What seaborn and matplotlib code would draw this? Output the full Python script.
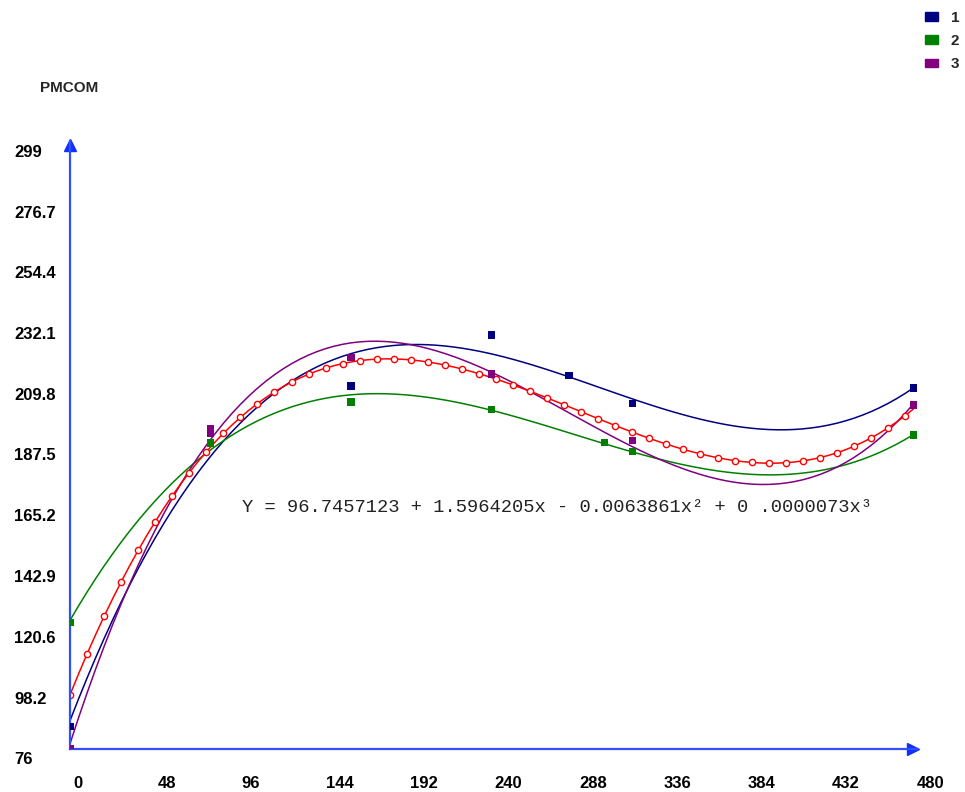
import matplotlib
matplotlib.use("Agg")
import matplotlib.pyplot as plt
import matplotlib.transforms as mtransforms
from matplotlib.patches import Patch
import pandas as pd
import seaborn as sns

# points, one list pair per series
x1 = [0, 80, 160, 240, 284, 320, 480]
y1 = [84.2, 192.0, 209.3, 228.1, 213.1, 203.0, 208.6]
x2 = [0, 80, 160, 240, 304, 320, 480]
y2 = [122.5, 188.4, 203.5, 200.8, 188.6, 185.3, 191.4]
x3 = [0, 80, 80, 160, 240, 320, 480]
y3 = [76.0, 193.7, 191.8, 219.8, 213.8, 189.3, 202.4]

series_names = ["1", "2", "3"]
series_colors = ["#000080", "#008000", "#800080"]

xticks = [0, 48, 96, 144, 192, 240, 288, 336, 384, 432, 480]
yticks = [76, 98.2, 120.6, 142.9, 165.2, 187.5, 209.8, 232.1, 254.4, 276.7, 299]
ytick_labels = ["76", "98.2", "120.6", "142.9", "165.2", "187.5", "209.8",
                "232.1", "254.4", "276.7", "299"]
y_title = "PMCOM"
equation = "Y = 96.7457123 + 1.5964205x - 0.0063861x² + 0 .0000073x³"

df = pd.concat([
    pd.DataFrame({"x": x1, "y": y1, "series": "1"}),
    pd.DataFrame({"x": x2, "y": y2, "series": "2"}),
    pd.DataFrame({"x": x3, "y": y3, "series": "3"}),
], ignore_index=True)

sns.set_style("white")
plt.rcParams["font.family"] = ["Liberation Sans", "DejaVu Sans"]

axis_color = "#3050ff"

fig = plt.figure(figsize=(9.65, 7.92), dpi=100)
# x: 0..482 -> px 70..917, y: 76..299.5 -> px 749..140.6
ax = fig.add_axes([70 / 965, 43 / 792, 847 / 965, 608.4 / 792])

# cubic fit per series
for name, color in zip(series_names, series_colors):
    sub = df[df.series == name]
    sns.regplot(data=sub, x="x", y="y", order=3, ci=None, scatter=False,
                color=color, line_kws=dict(lw=1.1), ax=ax)

# pooled cubic fit (red, circles along the curve)
sns.regplot(data=df, x="x", y="y", order=3, ci=None, scatter=False,
            color="red", ax=ax,
            line_kws=dict(lw=1.1, marker="o", ms=4.5, mfc="white", mew=1,
                          markevery=2))

sns.scatterplot(data=df, x="x", y="y", hue="series", hue_order=series_names,
                palette=series_colors, marker="s", s=28, linewidth=0,
                legend=False, ax=ax, zorder=5)

ax.set_xlim(0, 482)
ax.set_ylim(76, 299.5)
ax.set_xticks(xticks)
ax.set_yticks(yticks)
ax.set_xlabel("")
ax.set_ylabel("")
sns.despine(ax=ax)
for side in ["left", "bottom"]:
    ax.spines[side].set_color(axis_color)
    ax.spines[side].set_linewidth(1.6)
ax.tick_params(direction="inout", length=9, width=1, color=axis_color,
               labelleft=False, labelbottom=False)

# arrow heads at axis ends
ax.plot([0], [298], marker="^", color="#1030ff", ms=8, clip_on=False)
ax.plot([479.5], [76], marker=">", color="#1030ff", ms=8, clip_on=False)

# tick labels, placed like the original
ytrans = mtransforms.blended_transform_factory(ax.transAxes, ax.transData) + \
    mtransforms.ScaledTranslation(0, -10.5 / 100, fig.dpi_scale_trans)
for v, lab in zip(yticks, ytick_labels):
    ax.text(-56 / 847, v, lab, transform=ytrans, ha="left", va="center",
            fontsize=12, fontweight="bold", color="black")

xtrans = mtransforms.blended_transform_factory(ax.transData, ax.transAxes) + \
    mtransforms.ScaledTranslation(3 / 100, -34 / 100, fig.dpi_scale_trans)
for v in xticks:
    ax.text(v, 0, str(v), transform=xtrans, ha="left", va="center",
            fontsize=12, fontweight="bold", color="black")

fig.text(40 / 965, 1 - 88 / 792, y_title, fontsize=11, fontweight="bold",
         va="center")
fig.text(242 / 965, 1 - 507 / 792, equation, family="Liberation Mono",
         fontsize=13.5, color="#222222", va="center")

handles = [Patch(facecolor=c, edgecolor=c) for c in series_colors]
fig.legend(handles, series_names, loc="upper right",
           bbox_to_anchor=(959 / 965, 1 - 11 / 792), frameon=False,
           borderaxespad=0, borderpad=0,
           handlelength=0.85, handleheight=0.5, handletextpad=0.85,
           labelspacing=0.6, prop=dict(size=11, weight="bold"))

fig.savefig("out.png", dpi=100)
